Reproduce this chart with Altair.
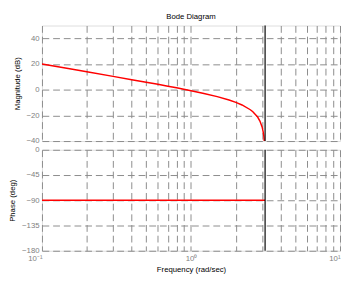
import altair as alt
import pandas as pd

# Magnitude curve
mag_w = [0.1, 0.15, 0.2, 0.3, 0.4, 0.5, 0.6, 0.7, 0.8, 1.0, 1.2, 1.5, 1.8, 2.0, 2.2, 2.5, 2.6, 2.8, 2.9, 3.0, 3.05, 3.08, 3.1, 3.102]
mag_db = [20.0, 16.5, 14.0, 10.4, 7.8, 5.8, 4.2, 2.7, 1.5, -0.8, -2.7, -5.4, -8.0, -9.9, -11.9, -15.6, -17.2, -21.3, -24.4, -29.0, -32.8, -36.0, -39.7, -40.0]
# Phase (constant)
ph_w = [0.1, 1.0, 3.1416]
ph_deg = [-90, -90, -90]
nyquist = [3.1416]
title_text = ["Bode Diagram"]

x_ticks = [0.1, 0.2, 0.3, 0.4, 0.5, 0.6, 0.7, 0.8, 0.9, 1, 2, 3, 4, 5, 6, 7, 8, 9, 10]
mag_ticks = [-40, -20, 0, 20, 40]
ph_ticks = [-180, -135, -90, -45, 0]

FONT = "Liberation Sans"
GRID = dict(grid=True, gridColor="#8a8a8a", gridDash=[7, 4], gridWidth=1,
            domain=False, ticks=False, labelColor="#808080", labelFont=FONT,
            labelFontSize=8, titleFont=FONT, titleFontSize=8, titleFontWeight="normal",
            titleColor="#000000", minExtent=0)

xscale = alt.Scale(type="log", domain=[0.1, 10], nice=False)

mag_df = pd.DataFrame({"w": mag_w, "m": mag_db})
ph_df = pd.DataFrame({"w": ph_w, "p": ph_deg})
ny_df = pd.DataFrame({"w": nyquist})
title_df = pd.DataFrame({"t": title_text})

label_expr = ("datum.value == 0.1 ? '10⁻¹' : datum.value == 1 ? '10⁰' : "
              "datum.value == 10 ? '10¹' : ''")

mag_line = alt.Chart(mag_df).mark_line(color="#ff0000", strokeWidth=1.5, clip=True).encode(
    x=alt.X("w:Q", scale=xscale,
            axis=alt.Axis(values=x_ticks, labels=False, title=None, **GRID)),
    y=alt.Y("m:Q", scale=alt.Scale(domain=[-40, 50], nice=False),
            axis=alt.Axis(values=mag_ticks, title="Magnitude (dB)", titlePadding=5, labelPadding=3, **GRID)),
)
ny_top = alt.Chart(ny_df).mark_rule(color="#000000", strokeWidth=1.2).encode(x="w:Q")
title_mark = alt.Chart(title_df).mark_text(
    font=FONT, fontSize=8, color="#000000", align="center", baseline="bottom"
).encode(text="t:N", x=alt.value(153.5), y=alt.value(-5))

top = alt.layer(mag_line, ny_top, title_mark).properties(width=307, height=119)

ph_line = alt.Chart(ph_df).mark_line(color="#ff0000", strokeWidth=1.5).encode(
    x=alt.X("w:Q", scale=xscale,
            axis=alt.Axis(values=x_ticks, labelExpr=label_expr, title="Frequency  (rad/sec)",
                          labelAlign={"condition": {"test": "datum.value <= 0.1 || datum.value >= 10",
                                                    "value": "right"},
                                      "value": "center"},
                          labelPadding=4, titlePadding=3, labelFlush=False, labelOverlap=False, **GRID)),
    y=alt.Y("p:Q", scale=alt.Scale(domain=[-180, 0], nice=False),
            axis=alt.Axis(values=ph_ticks, title="Phase (deg)", titlePadding=5, labelPadding=3, **GRID)),
)
ny_bot = alt.Chart(ny_df).mark_rule(color="#000000", strokeWidth=1.2).encode(x="w:Q")

bottom = alt.layer(ph_line, ny_bot).properties(width=307, height=104)

chart = alt.vconcat(top, bottom, spacing=9, bounds="flush").properties(
    padding={"left": 0, "top": 0, "right": 0, "bottom": 0},
).configure_view(stroke="#505050", strokeWidth=2).configure(background="white")

chart.save("out.html", embed_options={"renderer": "svg", "actions": False})
